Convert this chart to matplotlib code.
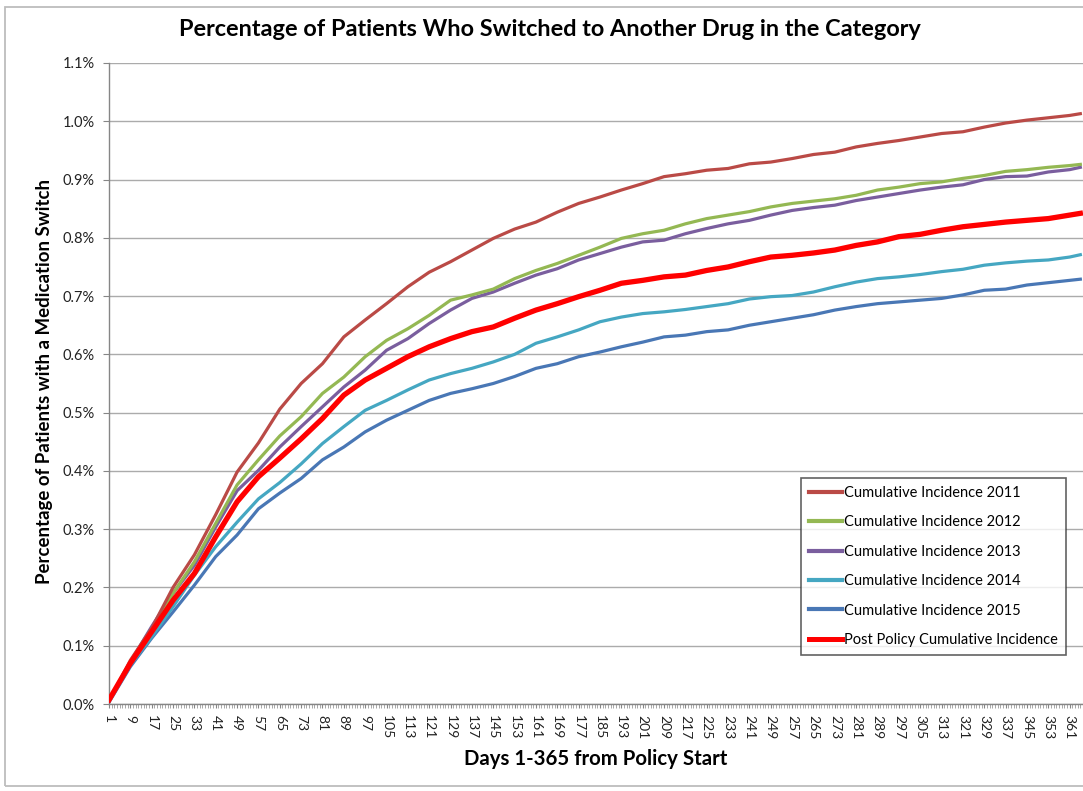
import matplotlib
matplotlib.use("Agg")
import matplotlib.pyplot as plt
from matplotlib.patches import Rectangle
from matplotlib.ticker import FixedLocator, MultipleLocator, FuncFormatter

# ---------------- data (percent values) ----------------
days = [1, 9, 17, 25, 33, 41, 49, 57, 65, 73, 81, 89, 97, 105, 113, 121, 129, 137,
        145, 153, 161, 169, 177, 185, 193, 201, 209, 217, 225, 233, 241, 249, 257,
        265, 273, 281, 289, 297, 305, 313, 321, 329, 337, 345, 353, 361, 365]

ci_2011 = [0.005, 0.075, 0.130, 0.200, 0.256, 0.325, 0.398, 0.448, 0.506, 0.550,
           0.584, 0.630, 0.659, 0.687, 0.716, 0.741, 0.759, 0.779, 0.799, 0.815,
           0.827, 0.844, 0.859, 0.870, 0.882, 0.893, 0.905, 0.910, 0.916, 0.919,
           0.927, 0.930, 0.936, 0.943, 0.947, 0.956, 0.962, 0.967, 0.973, 0.979,
           0.982, 0.990, 0.997, 1.002, 1.006, 1.010, 1.013]

ci_2012 = [0.005, 0.072, 0.128, 0.190, 0.244, 0.310, 0.376, 0.419, 0.460, 0.493,
           0.533, 0.561, 0.596, 0.624, 0.644, 0.667, 0.693, 0.702, 0.712, 0.730,
           0.744, 0.756, 0.770, 0.784, 0.799, 0.807, 0.813, 0.824, 0.833, 0.839,
           0.845, 0.853, 0.859, 0.863, 0.867, 0.873, 0.882, 0.887, 0.893, 0.896,
           0.902, 0.907, 0.914, 0.917, 0.921, 0.924, 0.926]

ci_2013 = [0.005, 0.072, 0.133, 0.190, 0.238, 0.304, 0.366, 0.401, 0.441, 0.476,
           0.510, 0.544, 0.573, 0.607, 0.627, 0.653, 0.676, 0.696, 0.707, 0.722,
           0.736, 0.747, 0.762, 0.773, 0.784, 0.793, 0.796, 0.807, 0.816, 0.824,
           0.830, 0.839, 0.847, 0.852, 0.856, 0.864, 0.870, 0.876, 0.882, 0.887,
           0.891, 0.900, 0.905, 0.906, 0.913, 0.917, 0.921]

ci_2014 = [0.004, 0.067, 0.115, 0.167, 0.221, 0.270, 0.312, 0.352, 0.380, 0.412,
           0.447, 0.476, 0.504, 0.521, 0.539, 0.556, 0.567, 0.576, 0.587, 0.600,
           0.619, 0.630, 0.642, 0.656, 0.664, 0.670, 0.673, 0.677, 0.682, 0.687,
           0.695, 0.699, 0.701, 0.707, 0.716, 0.724, 0.730, 0.733, 0.737, 0.742,
           0.746, 0.753, 0.757, 0.760, 0.762, 0.767, 0.771]

ci_2015 = [0.003, 0.064, 0.113, 0.158, 0.204, 0.253, 0.290, 0.335, 0.362, 0.387,
           0.419, 0.441, 0.467, 0.487, 0.504, 0.521, 0.533, 0.541, 0.550, 0.562,
           0.576, 0.584, 0.596, 0.604, 0.613, 0.621, 0.630, 0.633, 0.639, 0.642,
           0.650, 0.656, 0.662, 0.668, 0.676, 0.682, 0.687, 0.690, 0.693, 0.696,
           0.702, 0.710, 0.712, 0.719, 0.723, 0.727, 0.729]

post_policy = [0.007, 0.070, 0.124, 0.178, 0.224, 0.287, 0.347, 0.390, 0.422, 0.455,
               0.490, 0.530, 0.556, 0.576, 0.596, 0.613, 0.627, 0.639, 0.647, 0.662,
               0.676, 0.687, 0.699, 0.710, 0.722, 0.727, 0.733, 0.736, 0.744, 0.750,
               0.759, 0.767, 0.770, 0.774, 0.779, 0.787, 0.793, 0.802, 0.806, 0.813,
               0.819, 0.823, 0.827, 0.830, 0.833, 0.839, 0.842]

series_labels = ["Cumulative Incidence 2011", "Cumulative Incidence 2012",
                 "Cumulative Incidence 2013", "Cumulative Incidence 2014",
                 "Cumulative Incidence 2015", "Post Policy Cumulative Incidence"]
tick_days = list(range(1, 362, 8))
y_ticks = [0.0, 0.1, 0.2, 0.3, 0.4, 0.5, 0.6, 0.7, 0.8, 0.9, 1.0, 1.1]

title = "Percentage of Patients Who Switched to Another Drug in the Category"
xlabel = "Days 1-365 from Policy Start"
ylabel = "Percentage of Patients with a Medication Switch"

# ---------------- styling ----------------
plt.rcParams['font.family'] = ['Lato', 'DejaVu Sans']
W, H = 1083, 791
fig = plt.figure(figsize=(W / 100, H / 100), dpi=100)

def fx(px):
    return px / W

def fy(py):
    return 1 - py / H

ax_left, ax_right, ax_top, ax_bottom = 109, 1083, 63, 704
ax = fig.add_axes([fx(ax_left), fy(ax_bottom), fx(ax_right - ax_left),
                   (ax_bottom - ax_top) / H])

colors = ['#BA4A46', '#94B853', '#7A5E9E', '#45A7C2', '#4977B5', '#FF0000']
widths = [2.3, 2.3, 2.3, 2.3, 2.3, 3.8]
all_series = [ci_2011, ci_2012, ci_2013, ci_2014, ci_2015, post_policy]
order = [5, 4, 3, 2, 1, 0]
lines = {}
for i in order:
    ln, = ax.plot(days, all_series[i], color=colors[i], lw=widths[i],
                  solid_joinstyle='round', label=series_labels[i], zorder=3 + (i == 5))
    lines[i] = ln

ax.set_xlim(1, 366)
ax.set_ylim(0, 1.1)

grid_c = '#ABABAB'
ax.yaxis.set_major_locator(FixedLocator(y_ticks))
ax.yaxis.set_major_formatter(FuncFormatter(lambda v, p: f"{v:.1f}%"))
ax.grid(axis='y', color=grid_c, lw=1.0, zorder=1)
ax.set_axisbelow(True)

ax.xaxis.set_major_locator(FixedLocator(tick_days))
ax.xaxis.set_minor_locator(MultipleLocator(1))
ax.set_xticklabels([str(d) for d in tick_days], rotation=-90, va='top', ha='center')

for s in ['top', 'right']:
    ax.spines[s].set_visible(False)
for s in ['left', 'bottom']:
    ax.spines[s].set_color('#868686')
    ax.spines[s].set_linewidth(1.0)

ax.tick_params(axis='x', which='major', length=3.2, width=0.8, color='#868686',
               labelsize=10, pad=4.5, labelcolor='#222222')
ax.tick_params(axis='x', which='minor', length=3.2, width=0.6, color='#9A9A9A')
ax.tick_params(axis='y', which='major', length=4.3, width=0.8, color='#868686',
               labelsize=10.5, pad=6.0, labelcolor='#222222')

fig.text(fx(549.5), fy(30), title, ha='center', va='center',
         fontsize=16.9, fontweight='bold', color='black')
fig.text(fx(596), fy(759), xlabel, ha='center', va='center',
         fontsize=14.7, fontweight='bold', color='black')
fig.text(fx(45), fy(381), ylabel, ha='center', va='center', rotation=90,
         fontsize=13.4, fontweight='bold', color='black')

handles = [lines[i] for i in range(6)]
leg = fig.legend(handles, series_labels, loc='upper left',
                 bbox_to_anchor=(fx(800.7), fy(477.7)), bbox_transform=fig.transFigure,
                 fontsize=10.5, frameon=True, fancybox=False, shadow=False,
                 borderpad=0.55, labelspacing=1.06, handlelength=2.3,
                 handletextpad=0.15, borderaxespad=0.0)
frame = leg.get_frame()
frame.set_edgecolor('#3A3A3A')
frame.set_linewidth(1.2)
frame.set_facecolor('white')
for ln in leg.get_lines():
    ln.set_linewidth(3.0)
leg.get_lines()[5].set_linewidth(3.6)

# outer chart border (left and top edges visible)
fig.patches.append(Rectangle((fx(5), fy(786)), fx(1200), (786 - 7) / H,
                             transform=fig.transFigure, fill=False,
                             edgecolor='#BDBDBD', lw=1.3))

fig.savefig("out.png", dpi=100)
